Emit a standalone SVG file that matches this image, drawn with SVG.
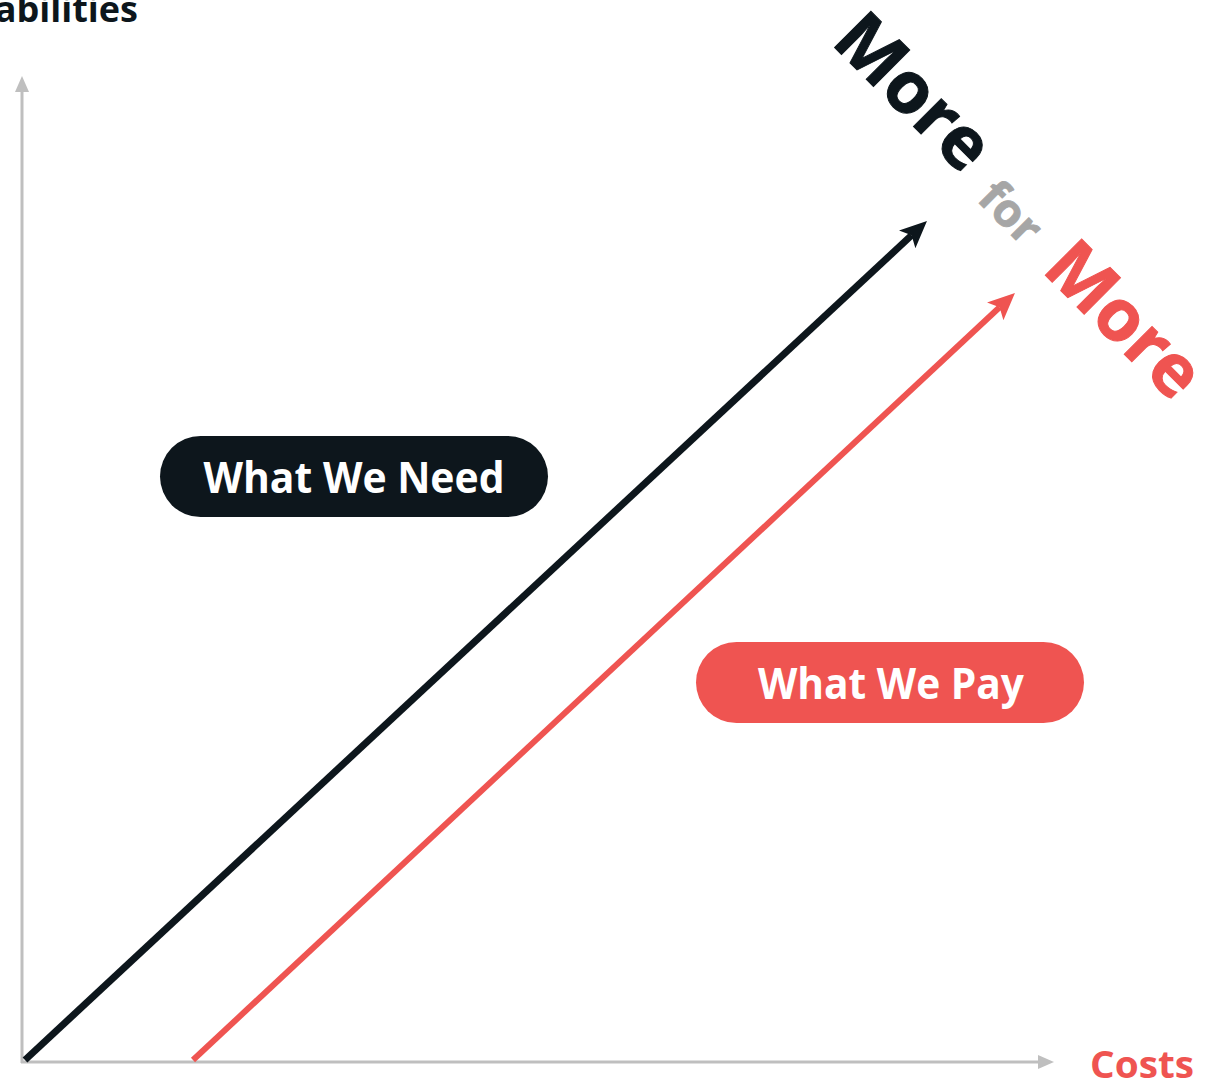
<svg xmlns="http://www.w3.org/2000/svg" width="1220" height="1084" viewBox="0 0 1220 1084">
  <style>
    .lbl { font-family: "Open Sans", "Noto Sans", "DejaVu Sans", sans-serif; font-weight: 700; }
    .axis { stroke: #bfbfbf; stroke-width: 3; fill: none; }
  </style>
  <defs>
    <marker id="axhead" viewBox="0 -8 16 16" markerWidth="16" markerHeight="16" refX="0" refY="0" orient="auto" markerUnits="userSpaceOnUse">
      <path d="M0,-7 L16,0 L0,7 z" fill="#bfbfbf"/>
    </marker>
    <marker id="headBlack" viewBox="0 -14 30 28" markerWidth="30" markerHeight="28" refX="6" refY="0" orient="auto" markerUnits="userSpaceOnUse">
      <path d="M0,-12 L27,0 L0,12 L6,0 z" fill="#0d161c"/>
    </marker>
    <marker id="headRed" viewBox="0 -14 30 28" markerWidth="30" markerHeight="28" refX="6" refY="0" orient="auto" markerUnits="userSpaceOnUse">
      <path d="M0,-12 L27,0 L0,12 L6,0 z" fill="#ef5451"/>
    </marker>
  </defs>
  <rect width="1220" height="1084" fill="#ffffff"/>

  <g id="connectors">
    <line class="axis" x1="22" y1="1063" x2="22" y2="92" marker-end="url(#axhead)"/>
    <line class="axis" x1="21" y1="1062" x2="1038" y2="1062" marker-end="url(#axhead)"/>
    <line x1="25" y1="1060" x2="911.6" y2="235.3" stroke="#0d161c" stroke-width="7" marker-end="url(#headBlack)"/>
    <line x1="193" y1="1060" x2="999.6" y2="307.3" stroke="#ef5451" stroke-width="6" marker-end="url(#headRed)"/>
  </g>

  <g id="y-axis-label">
    <text class="lbl" x="138" y="22" font-size="36" fill="#0d161c" text-anchor="end">Capabilities</text>
  </g>
  <g id="x-axis-label">
    <text class="lbl" x="1142" y="1078" font-size="38" fill="#ef5451" text-anchor="middle" textLength="104" lengthAdjust="spacingAndGlyphs">Costs</text>
  </g>

  <g id="node-need">
    <rect x="160" y="436" width="388" height="81" rx="40.5" fill="#0d161c"/>
    <text class="lbl" x="354" y="493" font-size="43" fill="#ffffff" text-anchor="middle" textLength="301" lengthAdjust="spacingAndGlyphs">What We Need</text>
  </g>
  <g id="node-pay">
    <rect x="696" y="642" width="388" height="81" rx="40.5" fill="#ef5451"/>
    <text class="lbl" x="891" y="699" font-size="43" fill="#ffffff" text-anchor="middle" textLength="266" lengthAdjust="spacingAndGlyphs">What We Pay</text>
  </g>

  <g id="more-for-more" transform="translate(830,43) rotate(45)">
    <text class="lbl" x="0" y="0" font-size="72" fill="#0d161c" stroke="#0d161c" stroke-width="1">More</text>
    <text class="lbl" x="214" y="8" font-size="46" fill="#a6a6a6" stroke="#a6a6a6" stroke-width="0.8">for</text>
    <text class="lbl" x="310" y="12" font-size="72" fill="#ef5451" stroke="#ef5451" stroke-width="1">More</text>
  </g>
</svg>
